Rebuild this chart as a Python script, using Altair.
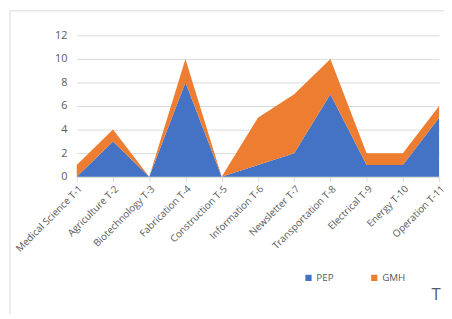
import altair as alt
import pandas as pd

categories = ["Medical Science T-1", "Agriculture T-2", "Biotechnology T-3", "Fabrication T-4",
              "Construction T-5", "Information T-6", "Newsletter T-7", "Transportation T-8",
              "Electrical T-9", "Energy T-10", "Operation T-11"]
pep = [0, 3, 0, 8, 0, 1, 2, 7, 1, 1, 5]
gmh = [1, 1, 0, 2, 0, 4, 5, 3, 1, 1, 1]
series = ["PEP", "GMH"]
colors = ["#4472C4", "#ED7D31"]

rows = []
for i, c in enumerate(categories):
    rows.append({"cat": c, "series": "PEP", "value": pep[i], "ord": 0})
    rows.append({"cat": c, "series": "GMH", "value": gmh[i], "ord": 1})
df = pd.DataFrame(rows)
one = pd.DataFrame({"k": [0]})

W, H = 369, 144
font = "Open Sans"

area = alt.Chart(df).mark_area(opacity=1).encode(
    x=alt.X("cat:N", sort=categories, scale=alt.Scale(type="point", padding=0),
            axis=alt.Axis(title=None, labelAngle=-45, labelAlign="right", labelBaseline="top",
                          labelFontSize=10, labelColor="#595959", labelFont=font,
                          domainColor="#D9D9D9", tickColor="#D9D9D9", tickSize=5,
                          grid=False, labelPadding=2, labelLimit=200)),
    y=alt.Y("value:Q", stack="zero",
            scale=alt.Scale(domain=[0, 12], nice=False),
            axis=alt.Axis(title=None, values=[0, 2, 4, 6, 8, 10, 12], domain=False, ticks=False,
                          labelFontSize=11, labelColor="#595959", labelFont=font,
                          gridColor="#D9D9D9", labelPadding=10)),
    color=alt.Color("series:N", scale=alt.Scale(domain=series, range=colors),
                    legend=alt.Legend(title=None, orient="none", legendX=231, legendY=242,
                                      direction="horizontal", symbolType="square", symbolSize=40,
                                      labelFontSize=10, labelColor="#595959", labelFont=font,
                                      labelOffset=3, columnPadding=36, symbolStrokeWidth=0,
                                      padding=0)),
    order=alt.Order("ord:Q"),
)

frame_left = alt.Chart(one).mark_rule(color="#D9D9D9").encode(
    x=alt.value(-68), y=alt.value(-25), y2=alt.value(H + 140))
frame_top = alt.Chart(one).mark_rule(color="#D9D9D9").encode(
    x=alt.value(-68), x2=alt.value(W + 20), y=alt.value(-25))
t_text = alt.Chart(one).mark_text(text="T", fontSize=17, color="#595959", font=font,
                                  fontWeight="normal", align="center", baseline="middle").encode(
    x=alt.value(366), y=alt.value(265))

chart = alt.layer(frame_left, frame_top, area, t_text).properties(
    width=W, height=H,
    padding={"left": 70, "top": 25, "right": 5, "bottom": 140},
    autosize=alt.AutoSizeParams(type="none"),
).configure_view(stroke=None)

chart.save("out.html", embed_options={"renderer": "svg", "actions": False})
